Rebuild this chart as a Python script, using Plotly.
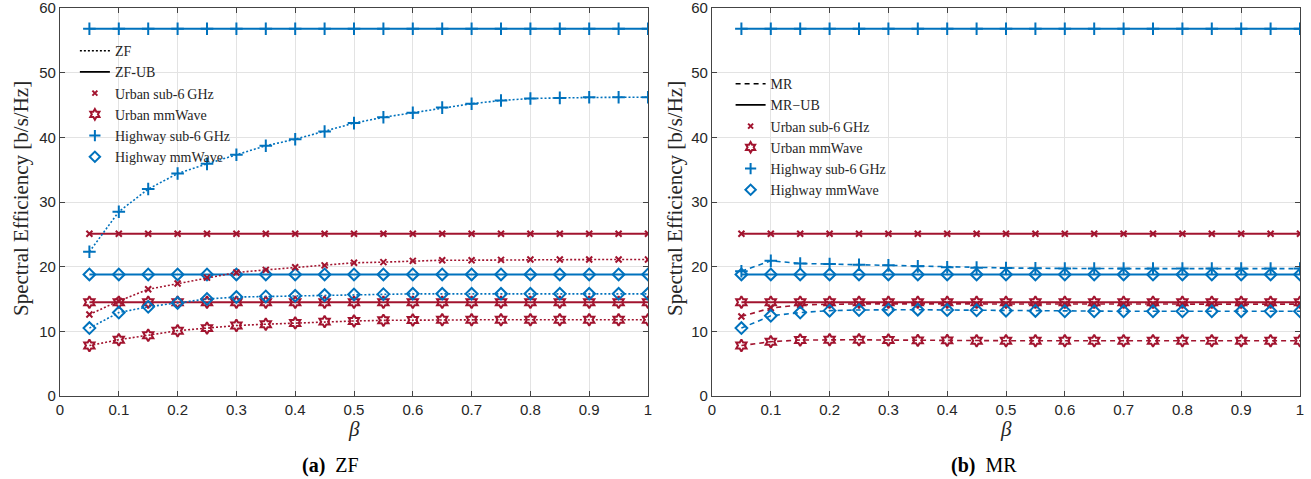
import plotly.graph_objects as go

beta = [0.05, 0.1, 0.15, 0.2, 0.25, 0.3, 0.35, 0.4, 0.45, 0.5,
        0.55, 0.6, 0.65, 0.7, 0.75, 0.8, 0.85, 0.9, 0.95, 1.0]

# Upper bounds (flat)
ub_urban_sub6 = [25.1] * 20
ub_urban_mmw = [14.5] * 20
ub_hw_sub6 = [56.8] * 20
ub_hw_mmw = [18.8] * 20

# ZF
zf_urban_sub6 = [12.6, 14.7, 16.5, 17.4, 18.3, 19.1, 19.5, 19.9, 20.2, 20.6,
                 20.7, 20.9, 21.0, 21.0, 21.05, 21.1, 21.1, 21.1, 21.1, 21.1]
zf_urban_mmw = [7.8, 8.7, 9.4, 10.1, 10.5, 10.9, 11.1, 11.3, 11.5, 11.6,
                11.7, 11.75, 11.8, 11.8, 11.8, 11.8, 11.8, 11.8, 11.8, 11.8]
zf_hw_sub6 = [22.3, 28.5, 32.0, 34.4, 35.9, 37.3, 38.7, 39.7, 40.9, 42.2,
              43.1, 43.8, 44.6, 45.2, 45.7, 46.0, 46.1, 46.2, 46.2, 46.2]
zf_hw_mmw = [10.5, 12.9, 13.8, 14.4, 15.0, 15.3, 15.4, 15.5, 15.6, 15.7,
             15.75, 15.8, 15.8, 15.8, 15.8, 15.8, 15.8, 15.8, 15.8, 15.8]

# MR
mr_urban_sub6 = [12.3, 13.6, 14.1, 14.2, 14.25, 14.25, 14.25, 14.25, 14.2, 14.2,
                 14.2, 14.2, 14.2, 14.2, 14.2, 14.2, 14.2, 14.2, 14.2, 14.2]
mr_urban_mmw = [7.8, 8.4, 8.65, 8.7, 8.7, 8.65, 8.6, 8.6, 8.55, 8.55,
                8.55, 8.55, 8.55, 8.55, 8.55, 8.55, 8.55, 8.55, 8.55, 8.55]
mr_hw_sub6 = [19.3, 20.9, 20.5, 20.4, 20.3, 20.2, 20.05, 19.9, 19.85, 19.8,
              19.75, 19.7, 19.7, 19.7, 19.7, 19.7, 19.7, 19.7, 19.7, 19.7]
mr_hw_mmw = [10.5, 12.4, 12.9, 13.2, 13.3, 13.35, 13.35, 13.3, 13.25, 13.2,
             13.15, 13.1, 13.1, 13.1, 13.1, 13.1, 13.1, 13.1, 13.1, 13.1]

y_ticks = [0, 10, 20, 30, 40, 50, 60]
x_ticks = [0, 0.1, 0.2, 0.3, 0.4, 0.5, 0.6, 0.7, 0.8, 0.9, 1]
x_tick_text = ["0", "0.1", "0.2", "0.3", "0.4", "0.5", "0.6", "0.7", "0.8", "0.9", "1"]

RED = "#A2142F"
BLUE = "#0072BD"

series_style = {
    "us": dict(color=RED, symbol="x-thin-open", size=6, mlw=2),
    "um": dict(color=RED, symbol="hexagram-open", size=9, mlw=2),
    "hs": dict(color=BLUE, symbol="cross-thin-open", size=9, mlw=2),
    "hm": dict(color=BLUE, symbol="diamond-open", size=9, mlw=2),
}

fig = go.Figure()


def add_curve(y, key, dash, xa, ya, width):
    s = series_style[key]
    fig.add_trace(go.Scatter(
        x=beta, y=y, mode="lines+markers", showlegend=False,
        line=dict(color=s["color"], dash=dash, width=width),
        marker=dict(symbol=s["symbol"], size=s["size"], color=s["color"],
                    line=dict(color=s["color"], width=s["mlw"])),
        xaxis=xa, yaxis=ya, hoverinfo="skip"))


DASH = "5px,4px"
DOT = "2px,2px"

# Left: ZF
for y, k in [(ub_hw_sub6, "hs"), (ub_urban_sub6, "us"), (ub_hw_mmw, "hm"), (ub_urban_mmw, "um")]:
    add_curve(y, k, "solid", "x", "y", 2)
for y, k in [(zf_hw_sub6, "hs"), (zf_urban_sub6, "us"), (zf_hw_mmw, "hm"), (zf_urban_mmw, "um")]:
    add_curve(y, k, DOT, "x", "y", 1.6)

# Right: MR
for y, k in [(ub_hw_sub6, "hs"), (ub_urban_sub6, "us"), (ub_hw_mmw, "hm"), (ub_urban_mmw, "um")]:
    add_curve(y, k, "solid", "x2", "y2", 2)
for y, k in [(mr_hw_sub6, "hs"), (mr_urban_sub6, "us"), (mr_hw_mmw, "hm"), (mr_urban_mmw, "um")]:
    add_curve(y, k, DASH, "x2", "y2", 1.6)

legend_names = ["Urban sub-6\u2009GHz", "Urban mmWave", "Highway sub-6\u2009GHz", "Highway mmWave"]
keys = ["us", "um", "hs", "hm"]
legend_marker_sizes = {"us": 5, "um": 8, "hs": 8, "hm": 8}


def add_legend(lg, line_name, dash, ub_name, xa, ya):
    fig.add_trace(go.Scatter(x=[None], y=[None], mode="lines", name=line_name,
                             line=dict(color="black", dash=dash, width=1.5),
                             legend=lg, xaxis=xa, yaxis=ya))
    fig.add_trace(go.Scatter(x=[None], y=[None], mode="lines", name=ub_name,
                             line=dict(color="black", width=1.8),
                             legend=lg, xaxis=xa, yaxis=ya))
    for nm, k in zip(legend_names, keys):
        s = series_style[k]
        fig.add_trace(go.Scatter(x=[None], y=[None], mode="markers", name=nm,
                                 marker=dict(symbol=s["symbol"], size=legend_marker_sizes[k],
                                             color=s["color"],
                                             line=dict(color=s["color"], width=s["mlw"])),
                                 legend=lg, xaxis=xa, yaxis=ya))


add_legend("legend", "ZF", DOT, "ZF-UB", "x", "y")
add_legend("legend2", "MR", DASH, "MR\u2212UB", "x2", "y2")

axis_common = dict(
    showline=True, linecolor="#444444", linewidth=1.2, mirror="ticks",
    ticks="inside", ticklen=5, tickcolor="#444444",
    showgrid=True, gridcolor="#E3E3E3", gridwidth=1, zeroline=False,
    ticklabeloverflow="allow", automargin=False,
    tickfont=dict(family="Liberation Sans, Arial", size=15, color="#262626"),
)

W, H = 1311, 479
ml, mr_, mt, mb = 60, 11, 8, 83
pw = W - ml - mr_
ph = H - mt - mb
d1 = (648 - ml) / pw
d2 = (712 - ml) / pw

legend_font = dict(family="Liberation Serif, DejaVu Serif", size=14, color="#262626")

fig.update_layout(
    width=W, height=H,
    margin=dict(l=ml, r=mr_, t=mt, b=mb),
    paper_bgcolor="white", plot_bgcolor="white",
    xaxis=dict(domain=[0, d1], range=[0, 1], tickvals=x_ticks, ticktext=x_tick_text, **axis_common),
    yaxis=dict(range=[0, 60], tickvals=y_ticks, **axis_common),
    xaxis2=dict(domain=[d2, 1], range=[0, 1], tickvals=x_ticks, ticktext=x_tick_text,
                anchor="y2", **axis_common),
    yaxis2=dict(range=[0, 60], tickvals=y_ticks, anchor="x2", **axis_common),
    legend=dict(x=0.012, y=0.93, xanchor="left", yanchor="top",
                bgcolor="rgba(0,0,0,0)", borderwidth=0, tracegroupgap=0,
                font=legend_font, itemwidth=30),
    legend2=dict(x=d2 + 0.015, y=0.845, xanchor="left", yanchor="top",
                 bgcolor="rgba(0,0,0,0)", borderwidth=0, tracegroupgap=0,
                 font=legend_font, itemwidth=30),
)


def px_to_paper(px, py):
    return (px - ml) / pw, (H - mb - py) / ph


title_font = dict(family="Liberation Serif, DejaVu Serif", size=21, color="#262626")
cap_font = dict(family="Liberation Serif, DejaVu Serif", size=20, color="black")

ann = []
for cx in (21, 675):
    x, y = px_to_paper(cx, 199)
    ann.append(dict(text="Spectral Efficiency [b/s/Hz]", x=x, y=y, xref="paper", yref="paper",
                    showarrow=False, textangle=-90, xanchor="center", yanchor="middle",
                    font=title_font))
for cx in (354, 1006):
    x, y = px_to_paper(cx, 429)
    ann.append(dict(text="<i>\u03b2</i>", x=x, y=y, xref="paper", yref="paper",
                    showarrow=False, xanchor="center", yanchor="middle", font=title_font))
for cx, txt in ((330, "<b>(a)</b>  ZF"), (984, "<b>(b)</b>  MR")):
    x, y = px_to_paper(cx, 465)
    ann.append(dict(text=txt, x=x, y=y, xref="paper", yref="paper", showarrow=False,
                    xanchor="center", yanchor="middle", font=cap_font))
fig.layout.annotations = ann

fig.write_html("out.html")
